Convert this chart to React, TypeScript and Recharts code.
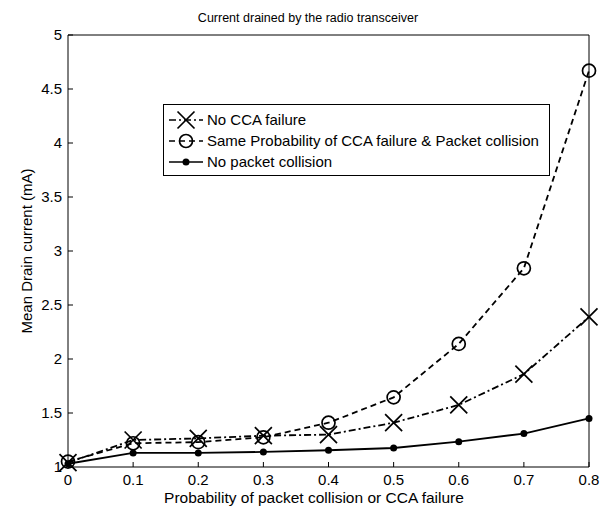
import React from "react";
import { LineChart, Line, XAxis, YAxis } from "recharts";

const probs = [0, 0.1, 0.2, 0.3, 0.4, 0.5, 0.6, 0.7, 0.8];
const noCcaFailure = [1.04, 1.25, 1.265, 1.29, 1.3, 1.41, 1.575, 1.86, 2.39];
const sameProb = [1.05, 1.22, 1.23, 1.275, 1.41, 1.645, 2.14, 2.84, 4.67];
const noCollision = [1.03, 1.13, 1.13, 1.14, 1.155, 1.176, 1.234, 1.31, 1.45];
const xTicks = [0, 0.1, 0.2, 0.3, 0.4, 0.5, 0.6, 0.7, 0.8];
const yTicks = [1, 1.5, 2, 2.5, 3, 3.5, 4, 4.5, 5];

const data = probs.map((p, i) => ({
  p,
  cca: noCcaFailure[i],
  same: sameProb[i],
  coll: noCollision[i],
}));

const FONT = "Liberation Sans, Arial, sans-serif";

const Cross = (props: any) => {
  const { cx, cy } = props;
  if (cx == null || cy == null) return null;
  const s = 8.5;
  return (
    <path
      d={`M${cx - s},${cy - s}L${cx + s},${cy + s}M${cx - s},${cy + s}L${cx + s},${cy - s}`}
      stroke="#000"
      strokeWidth={1.7}
      fill="none"
    />
  );
};

const Ring = (props: any) => {
  const { cx, cy } = props;
  if (cx == null || cy == null) return null;
  return <circle cx={cx} cy={cy} r={6.5} stroke="#000" strokeWidth={1.7} fill="none" />;
};

const Dot = (props: any) => {
  const { cx, cy } = props;
  if (cx == null || cy == null) return null;
  return <circle cx={cx} cy={cy} r={3.5} fill="#000" />;
};

const legendItems = [
  { label: "No CCA failure", dash: "7 3 2 3", marker: "x" },
  { label: "Same Probability of CCA failure & Packet collision", dash: "6 4", marker: "o" },
  { label: "No packet collision", dash: undefined, marker: "." },
];

const LegendBox = () => (
  <div
    style={{
      position: "absolute",
      left: 155,
      top: 96,
      border: "1px solid #000",
      background: "#fff",
      width: 387,
      height: 72,
      boxSizing: "border-box",
      padding: "4px 0 0 4px",
      fontFamily: FONT,
      fontSize: 15,
    }}
  >
    {legendItems.map((it) => (
      <div key={it.label} style={{ display: "flex", alignItems: "center", height: 21 }}>
        <svg width={36} height={20}>
          <line x1={1} y1={10} x2={35} y2={10} stroke="#000" strokeWidth={1.7} strokeDasharray={it.dash} />
          {it.marker === "x" && <Cross cx={18} cy={10} />}
          {it.marker === "o" && <Ring cx={18} cy={10} />}
          {it.marker === "." && <Dot cx={18} cy={10} />}
        </svg>
        <span style={{ marginLeft: 3, whiteSpace: "nowrap" }}>{it.label}</span>
      </div>
    ))}
  </div>
);

export default function App() {
  return (
    <div style={{ position: "relative", width: 600, height: 500 }}>
      <LineChart
        width={600}
        height={500}
        data={data}
        margin={{ top: 26, right: 18, bottom: 11, left: 20 }}
        style={{ fontFamily: FONT }}
      >
        <XAxis
          xAxisId="b"
          dataKey="p"
          type="number"
          domain={[0, 0.8]}
          ticks={xTicks}
          stroke="#000"
          tickSize={-5}
          tickMargin={12}
          height={30}
          tick={{ fill: "#000", fontSize: 15 }}
        />
        <XAxis
          xAxisId="t"
          orientation="top"
          dataKey="p"
          type="number"
          domain={[0, 0.8]}
          ticks={xTicks}
          stroke="#000"
          tickSize={-5}
          tick={false}
          height={1}
        />
        <YAxis
          yAxisId="l"
          type="number"
          domain={[1, 5]}
          ticks={yTicks}
          width={40}
          stroke="#000"
          tickSize={-5}
          tickMargin={11}
          tick={{ fill: "#000", fontSize: 15 }}
        />
        <YAxis
          yAxisId="r"
          orientation="right"
          type="number"
          domain={[1, 5]}
          ticks={yTicks}
          width={1}
          stroke="#000"
          tickSize={-5}
          tick={false}
        />
        <text x={300} y={14} textAnchor="middle" fontSize={12.5} fill="#000" fontFamily={FONT}>
          Current drained by the radio transceiver
        </text>
        <text
          x={18}
          y={243}
          transform="rotate(-90 18 243)"
          textAnchor="middle"
          dominantBaseline="central"
          fontSize={15}
          fill="#000"
          fontFamily={FONT}
        >
          Mean Drain current (mA)
        </text>
        <text x={306} y={495} textAnchor="middle" fontSize={15.5} fill="#000" fontFamily={FONT}>
          Probability of packet collision or CCA failure
        </text>
        <Line
          xAxisId="b"
          yAxisId="l"
          dataKey="coll"
          stroke="#000"
          strokeWidth={1.8}
          dot={<Dot />}
          isAnimationActive={false}
        />
        <Line
          xAxisId="b"
          yAxisId="l"
          dataKey="same"
          stroke="#000"
          strokeWidth={1.8}
          strokeDasharray="6 4"
          dot={<Ring />}
          isAnimationActive={false}
        />
        <Line
          xAxisId="b"
          yAxisId="l"
          dataKey="cca"
          stroke="#000"
          strokeWidth={1.8}
          strokeDasharray="7 3 2 3"
          dot={<Cross />}
          isAnimationActive={false}
        />
      </LineChart>
      <LegendBox />
    </div>
  );
}
